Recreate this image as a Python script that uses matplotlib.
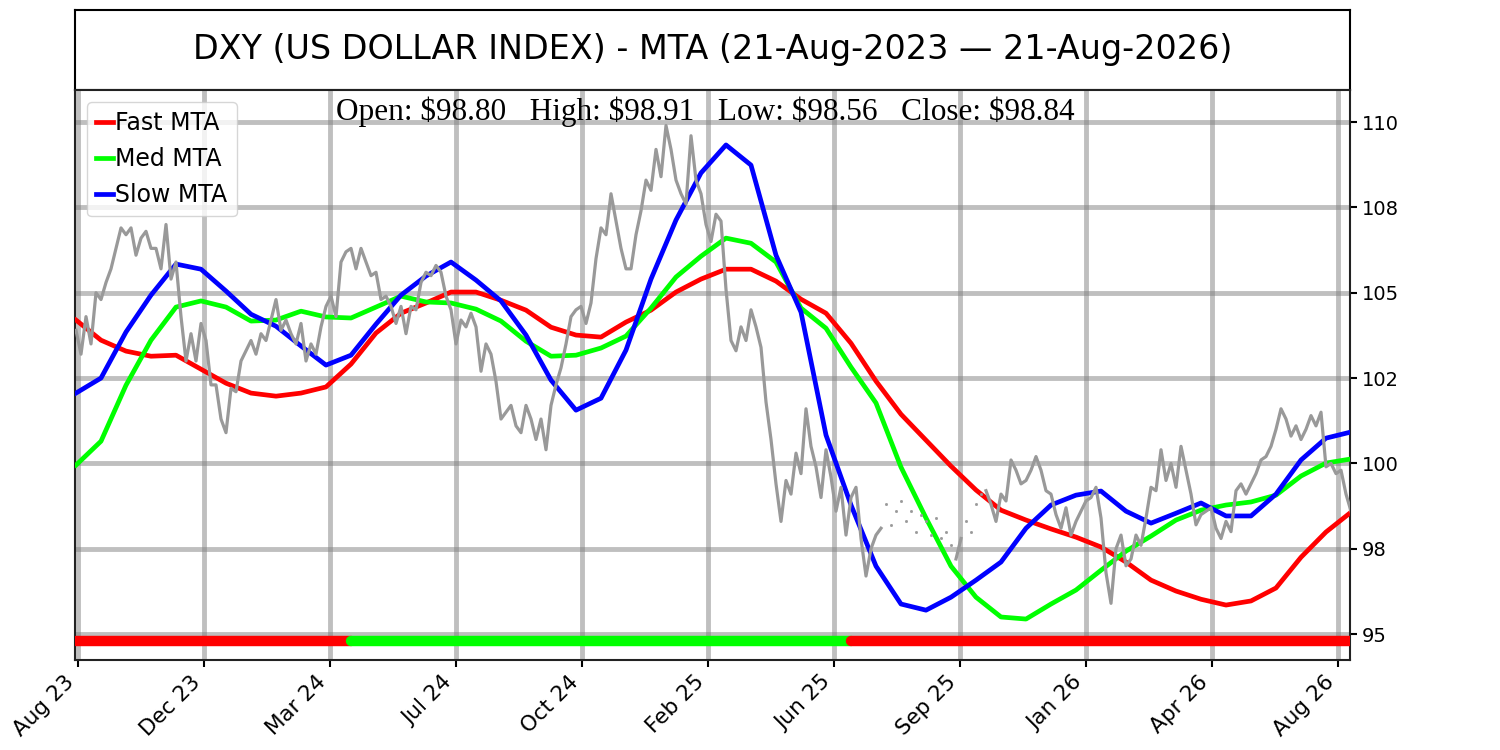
import numpy as np
import matplotlib
matplotlib.use("Agg")
import matplotlib.pyplot as plt

# ---- data ----
title = "DXY (US DOLLAR INDEX) - MTA (21-Aug-2023 \u2014 21-Aug-2026)"
date_labels = ["Aug 23", "Dec 23", "Mar 24", "Jul 24", "Oct 24", "Feb 25",
               "Jun 25", "Sep 25", "Jan 26", "Apr 26", "Aug 26"]

ohlc_open = 98.80
ohlc_high = 98.91
ohlc_low = 98.56
ohlc_close = 98.84

nan = float("nan")

# daily closes (gaps = sparse data)
price = [
    103.9, 103.2, 104.3, 103.5, 105.0, 104.8, 105.3, 105.7, 106.3, 106.9,
    106.7, 106.9, 106.1, 106.6, 106.8, 106.3, 106.3, 105.7, 107.0, 105.4,
    105.9, 104.3, 103.0, 103.8, 103.0, 104.1, 103.6, 102.3, 102.3, 101.3,
    100.9, 102.2, 102.1, 103.0, 103.3, 103.6, 103.2, 103.8, 103.6, 104.2,
    104.8, 103.9, 104.2, 103.8, 103.5, 104.1, 103.0, 103.5, 103.2, 104.0,
    104.6, 104.9, 104.3, 105.9, 106.2, 106.3, 105.7, 106.3, 105.9, 105.5,
    105.6, 104.8, 104.9, 104.6, 104.1, 104.6,
    103.8, 104.6, 104.5, 105.3, 105.6, 105.5, 105.8, 105.6, 104.9, 104.5,
    103.5, 104.2, 104.0, 104.4, 104.0, 102.7, 103.5, 103.2, 102.4, 101.3,
    101.5, 101.7, 101.1, 100.9, 101.7, 101.3, 100.7, 101.3, 100.4, 101.7,
    102.3, 102.8, 103.5, 104.3, 104.5, 104.6, 104.1, 104.7, 106.0, 106.9,
    106.7, 107.9, 107.1, 106.3, 105.7, 105.7, 106.7, 107.4, 108.3, 108.0,
    109.2, 108.4, 109.9, 109.2, 108.3, 107.9, 107.6, 109.6, 108.3, 107.9,
    107.0, 106.5, 107.3, 107.1, 105.1,
    103.6, 103.3, 104.0, 103.6, 104.5, 104.0, 103.4, 101.8, 100.7, 99.4,
    98.3, 99.5, 99.1, 100.3, 99.7, 101.6, 100.5, 99.9, 99.0, 100.4,
    99.6, 98.6, 99.3, 97.9, 99.0, 99.3, 97.8, 96.7, 97.5, 97.9,
    98.1,
    nan, nan, nan, nan, nan, nan, nan, nan, nan, nan, nan, nan, nan, nan,
    97.2, 97.8,
    nan, nan, nan, nan,
    99.2, 98.8, 98.3, 99.1, 98.9, 100.1, 99.8, 99.4, 99.5, 99.8,
    100.2, 99.8, 99.2,
    99.1, 98.5, 98.1, 98.7, 97.9, 98.3, 98.6, 98.9, 99.0, 99.3,
    98.4, 96.8, 95.9, 97.5, 97.9, 97.0, 97.2, 97.9, 97.6, 98.4,
    99.3, 99.2, 100.4, 99.5, 100.0, 99.3, 100.5, 99.8, 99.1, 98.2,
    98.5, 98.6, 98.7, 98.1, 97.8, 98.3, 98.0, 99.2, 99.4, 99.1,
    99.4, 99.7, 100.1, 100.2, 100.5, 101.0, 101.6, 101.3, 100.8, 101.1,
    100.7, 101.0, 101.4, 101.1, 101.5, 99.9, 100.0, 99.7, 99.8, 99.1,
    98.6,
]

# scattered ticks inside the sparse stretches
gap_price = [98.8, 98.2, 98.6, 98.9, 98.3, 98.6, 98.0, 98.5, 98.3, 97.9,
             98.4, 97.8, 98.0, 97.6, 98.3, 98.0, 98.8, 99.1]

fast_mta = [
    104.20, 103.61, 103.29, 103.14, 103.17, 102.76, 102.35, 102.06, 101.97, 102.06,
    102.24, 102.91, 103.82, 104.40, 104.70, 105.02, 105.02, 104.78, 104.49, 103.99,
    103.76, 103.70, 104.14, 104.49, 105.02, 105.40, 105.69, 105.69, 105.34, 104.81,
    104.40, 103.52, 102.41, 101.44, 100.68, 99.92, 99.22, 98.63, 98.34, 98.08,
    97.84, 97.55, 97.11, 96.58, 96.26, 96.02, 95.85, 95.97, 96.35, 97.25,
    97.99, 98.57,
]
med_mta = [
    99.95, 100.65, 102.29, 103.61, 104.58, 104.76, 104.58, 104.17, 104.20, 104.46,
    104.29, 104.26, 104.58, 104.90, 104.73, 104.70, 104.52, 104.17, 103.58, 103.14,
    103.17, 103.38, 103.73, 104.55, 105.46, 106.07, 106.60, 106.45, 105.90, 104.55,
    103.96, 102.82, 101.77, 99.89, 98.40, 96.99, 96.08, 95.50, 95.44, 95.88,
    96.29, 96.87, 97.43, 97.87, 98.34, 98.63, 98.78, 98.87, 99.07, 99.63,
    100.01, 100.13,
]
slow_mta = [
    102.06, 102.50, 103.85, 104.93, 105.84, 105.69, 105.05, 104.37, 104.02, 103.44,
    102.88, 103.17, 104.08, 104.93, 105.49, 105.90, 105.37, 104.76, 103.76, 102.44,
    101.56, 101.91, 103.32, 105.40, 107.13, 108.51, 109.33, 108.74, 106.10, 104.43,
    100.83, 98.78, 96.99, 95.88, 95.70, 96.08, 96.58, 97.11, 98.10, 98.78,
    99.07, 99.19, 98.60, 98.25, 98.54, 98.84, 98.46, 98.46, 99.10, 100.10,
    100.74, 100.92,
]

# trend regime per MTA sample: 1 = bullish (green), -1 = bearish (red)
regime = [
    -1, -1, -1, -1, -1, -1, -1, -1, -1, -1, -1,
    1, 1, 1, 1, 1, 1, 1, 1, 1, 1, 1, 1, 1, 1, 1, 1, 1, 1, 1, 1,
    -1, -1, -1, -1, -1, -1, -1, -1, -1, -1, -1, -1, -1, -1, -1, -1, -1, -1, -1, -1, -1,
]

# ---- figure ----
fig = plt.figure(figsize=(15, 7.5), dpi=100)
ax_t = fig.add_axes([0.05, 0.88, 0.85, 0.1067])
ax = fig.add_axes([0.05, 0.12, 0.85, 0.76])

ax_t.set_xticks([])
ax_t.set_yticks([])
for s in ax_t.spines.values():
    s.set_linewidth(1.5)
ax_t.text(0.5, 0.5, title, ha="center", va="center", fontsize=24,
          transform=ax_t.transAxes)

price = np.array(price, dtype=float)
x_price = np.arange(len(price))
x_mta = np.linspace(0, len(price) - 1, len(fast_mta))

ax.plot(x_mta, fast_mta, color="#ff0000", lw=3.4, label="Fast MTA", zorder=3)
ax.plot(x_mta, med_mta, color="#00ff00", lw=3.4, label="Med MTA", zorder=3)
ax.plot(x_mta, slow_mta, color="#0000ff", lw=3.4, label="Slow MTA", zorder=3)

ax.plot(x_price, price, color="#999999", lw=2.3, zorder=4)
gap_x = x_price[np.isnan(price)]
ax.plot(gap_x, gap_price, ls="none", marker="s", ms=1.0, color="#999999",
        zorder=4)

# regime bar along the bottom
bar_level = 94.8
start = 0
for i in range(1, len(regime) + 1):
    if i == len(regime) or regime[i] != regime[start]:
        end = min(i, len(regime) - 1)
        col = "#00ff00" if regime[start] > 0 else "#ff0000"
        ax.plot([x_mta[start], x_mta[end]], [bar_level, bar_level], color=col,
                lw=7.5, solid_capstyle="round", zorder=3)
        start = i

ax.set_xlim(-0.2, len(price) - 1.2)
ax.set_ylim(94.24, 110.94)

yt = np.arange(95, 110.1, 2.5)
ax.set_yticks(yt)
ax.set_yticklabels([f"{v:.0f}" for v in yt], fontsize=14)
ax.yaxis.tick_right()

tick_pos = 0.4 + 25.2 * np.arange(len(date_labels))
ax.set_xticks(tick_pos)
ax.set_xticklabels(date_labels, rotation=45, ha="right", fontsize=15.5)

ax.tick_params(length=5, width=1.5)
for s in ax.spines.values():
    s.set_linewidth(1.5)
    s.set_color("#222222")

ax.grid(True, color="gray", alpha=0.5, lw=3.5)
ax.set_axisbelow(True)

ohlc = (f"Open: \\${ohlc_open:.2f}   High: \\${ohlc_high:.2f}   "
        f"Low: \\${ohlc_low:.2f}   Close: \\${ohlc_close:.2f}")
ax.text(0.4945, 0.988, ohlc, transform=ax.transAxes, ha="center", va="top",
        fontsize=22.5, family="Liberation Serif", zorder=6)

ax.legend(loc="upper left", fontsize=17, handlelength=0.7, handletextpad=0.1,
          labelspacing=0.5, borderpad=0.4)

fig.savefig("out.png", dpi=100)
